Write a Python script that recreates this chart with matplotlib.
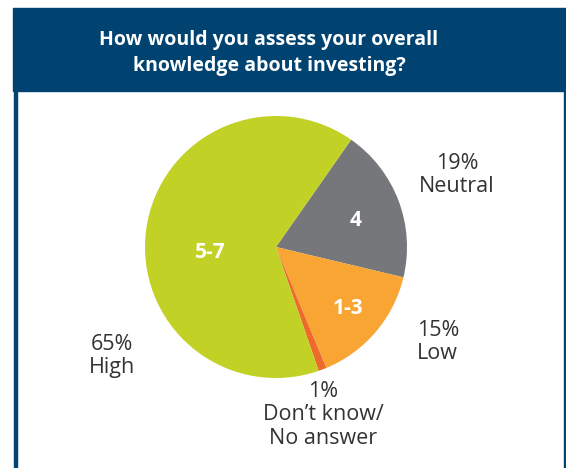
import matplotlib.pyplot as plt
from matplotlib.patches import Rectangle

# data
categories = ["4", "1-3", "Don\u2019t know", "5-7"]
shares = [19, 15, 1, 65]
colors = ["#76777a", "#f9a533", "#ee6a2a", "#c2d125"]
outer_labels = ["19%\nNeutral", "15%\nLow", "1%\nDon\u2019t know/\nNo answer", "65%\nHigh"]
title = "How would you assess your overall\nknowledge about investing?"

W, H = 566, 468
BLUE = "#004270"
TXT = "#333333"
plt.rcParams['font.family'] = ['Open Sans', 'DejaVu Sans']

fig = plt.figure(figsize=(W / 100, H / 100), dpi=100)
ax = fig.add_axes([0, 0, 1, 1])

# pie, in pixel-like coords (y up)
wedges, _ = ax.pie(shares, colors=colors, startangle=55, counterclock=False,
                   center=(276, H - 247), radius=131,
                   wedgeprops=dict(linewidth=0))
ax.set_xlim(0, W)
ax.set_ylim(0, H)
ax.set_aspect('equal')
ax.axis('off')

# header band and frame
ax.add_patch(Rectangle((13, H - 91), W - 13, 83, color=BLUE, zorder=0))
ax.add_patch(Rectangle((13.5, 0), 3, H - 91, color=BLUE, zorder=0))
ax.add_patch(Rectangle((563.5, 0), 3, H - 91, color=BLUE, zorder=0))
ax.text(269, H - 53, title, ha='center', va='center', color='white',
        fontsize=14, fontweight='bold', linespacing=1.45)

# labels inside slices
inner_pos = [(356, 220), (348, 308), None, (210, 253)]
for cat, pos in zip(categories, inner_pos):
    if pos is None:
        continue
    ax.text(pos[0], H - pos[1], cat, ha='center', va='center', color='white',
            fontsize=15, fontweight='bold')

# outside labels
outer_pos = [(457, 175), (436, 342), (323, 415), (112, 356)]
outer_ha = ['center', 'left', 'center', 'center']
for lab, pos, ha in zip(outer_labels, outer_pos, outer_ha):
    x = pos[0] - 19 if ha == 'left' else pos[0]
    ax.text(x, H - pos[1], lab, ha=ha, va='center', color=TXT,
            fontsize=15.5, linespacing=1.15, multialignment=ha)

fig.savefig("out.png", dpi=100)
